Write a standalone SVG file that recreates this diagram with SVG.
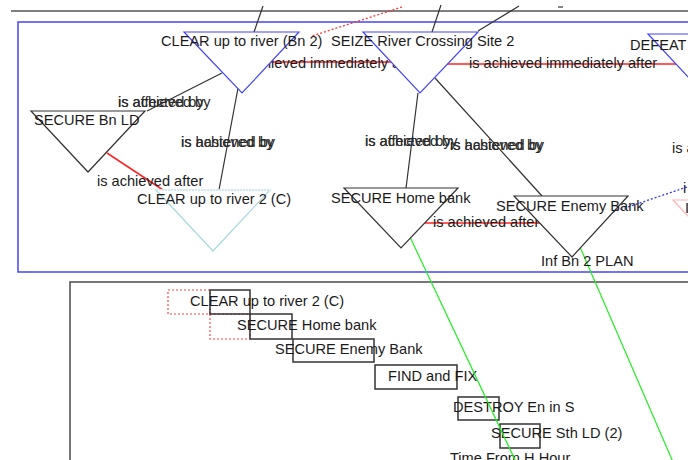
<svg xmlns="http://www.w3.org/2000/svg" width="700" height="460" viewBox="0 0 700 460">
<defs>
<clipPath id="view"><rect x="0" y="0" width="688" height="460"/></clipPath>
<style>
text{font-family:"Liberation Sans",Arial,sans-serif;font-size:14.6px;fill:#1a1a1a}
.ov{fill:#2a2a2a}
.tri{fill:#fff;stroke-width:1.2}
.blue{stroke:#4545f5}
.blk{stroke:#333}
.pb{stroke:#a8dade}
.pink{stroke:#ffb4b4}
.ln{stroke:#333;stroke-width:1.2;fill:none}
.red{stroke:#f22;stroke-width:1.5;fill:none}
.rdot{stroke:#f33;stroke-width:1.3;stroke-dasharray:2 2;fill:none}
.bdot{stroke:#33f;stroke-width:1.3;stroke-dasharray:2 2;fill:none}
.grn{stroke:#2e2;stroke-width:1.2;fill:none}
.bar{fill:none;stroke:#333;stroke-width:1.5}
.bardot{fill:none;stroke:#f44;stroke-width:1.2;stroke-dasharray:2 2}
</style>
</defs>
<rect width="700" height="460" fill="#fff"/>
<g clip-path="url(#view)">
<g id="frames">
<line x1="11" y1="11" x2="700" y2="11" stroke="#555" stroke-width="1.6"/>
<rect x="18" y="22" width="700" height="250" fill="none" stroke="#4545f5" stroke-width="1.5"/>
<rect x="70" y="282" width="660" height="220" fill="none" stroke="#555" stroke-width="1.6"/>
</g>
<g id="timeline">
<rect class="bardot" x="168" y="290" width="42" height="24"/>
<rect class="bardot" x="210" y="314" width="40" height="25"/>
<rect class="bar" x="210" y="290" width="40" height="24"/>
<rect class="bar" x="250" y="314" width="42" height="25"/>
<rect class="bar" x="293" y="339" width="81" height="23"/>
<rect class="bar" x="375" y="365" width="82" height="24"/>
<rect class="bar" x="458" y="397" width="41" height="23"/>
<rect class="bar" x="500" y="424" width="40" height="24"/>
<text x="190" y="306">CLEAR up to river 2 (C)</text>
<text x="237" y="330">SECURE Home bank</text>
<text x="275" y="354">SECURE Enemy Bank</text>
<text x="388" y="381">FIND and FIX</text>
<text x="453" y="412">DESTROY En in S</text>
<text x="491" y="438">SECURE Sth LD (2)</text>
<text x="450" y="463">Time From H Hour</text>
</g>
<g id="connectors">
<line class="ln" x1="263" y1="6" x2="254" y2="32"/>
<line class="ln" x1="441" y1="5" x2="432" y2="32"/>
<line class="ln" x1="519" y1="6" x2="478" y2="31"/>
<line class="ln" x1="558" y1="7" x2="563" y2="7"/>
<line class="rdot" x1="402" y1="7" x2="312" y2="36"/>
<line class="red" x1="260" y1="62" x2="395" y2="62"/>
<text x="233" y="68">is achieved immediately after</text>
<line class="red" x1="445" y1="64" x2="680" y2="64"/>
<text x="469" y="68">is achieved immediately after</text>
<line class="ln" x1="222" y1="73" x2="147" y2="111"/>
<text class="ov" x="118" y="107">is achieved by</text>
<text class="ov" x="118" y="107">is affected by</text>
<line class="ln" x1="238" y1="88" x2="219" y2="190"/>
<text class="ov" x="181" y="147">is achieved by</text>
<text class="ov" x="181" y="147">is hastened by</text>
<line class="ln" x1="418" y1="93" x2="406" y2="188"/>
<text class="ov" x="365" y="146">is achieved by</text>
<text class="ov" x="365" y="146">is affected by</text>
<line class="ln" x1="435" y1="78" x2="542" y2="196"/>
<text class="ov" x="450" y="150">is achieved by</text>
<text class="ov" x="450" y="150">is hastened by</text>
<line class="red" x1="107" y1="153" x2="163" y2="190"/>
<text x="97" y="186">is achieved after</text>
<line class="red" x1="425" y1="223" x2="545" y2="223"/>
<text x="433" y="227">is achieved after</text>
<line class="bdot" x1="613" y1="212" x2="690" y2="186"/>
<text x="683" y="193">i</text>
<text x="672" y="153">is a</text>
<line class="grn" x1="410" y1="237" x2="516" y2="462"/>
<line class="grn" x1="580" y1="247" x2="673" y2="462"/>
</g>
<g id="n-clear-bn2">
<polygon class="tri blue" points="184,32 299,32 242,93"/>
<text x="161" y="46">CLEAR up to river (Bn 2)</text>
</g>
<g id="n-seize">
<polygon class="tri blue" points="363,32 478,32 420,93"/>
<text x="331" y="46">SEIZE River Crossing Site 2</text>
</g>
<g id="n-defeat">
<polygon class="tri blue" points="648,34 763,34 705,95"/>
<text x="630" y="50">DEFEAT</text>
</g>
<g id="n-secure-bnld">
<polygon class="tri blk" points="31,111 145,111 88,172"/>
<text x="34" y="125">SECURE Bn LD</text>
</g>
<g id="n-clear-2c">
<polygon class="tri pb" points="156,190 270,190 213,251"/>
<line x1="156" y1="190" x2="270" y2="190" stroke="#fff" stroke-width="1.4"/>
<line x1="156" y1="190" x2="270" y2="190" stroke="#a8dade" stroke-width="1.2" stroke-dasharray="2 1"/>
<text x="137" y="204">CLEAR up to river 2 (C)</text>
</g>
<g id="n-home-bank">
<polygon class="tri blk" points="344,188 458,188 401,248"/>
<text x="331" y="203">SECURE Home bank</text>
</g>
<g id="n-enemy-bank">
<polygon class="tri blk" points="514,196 628,196 572,257"/>
<text x="496" y="211">SECURE Enemy Bank</text>
</g>
<g id="n-pink">
<polygon class="tri pink" points="673,200 788,200 730,261"/>
<text x="685" y="213">I</text>
</g>
<g id="plan-label">
<text x="541" y="266">Inf Bn 2 PLAN</text>
</g>
</g>
</svg>
